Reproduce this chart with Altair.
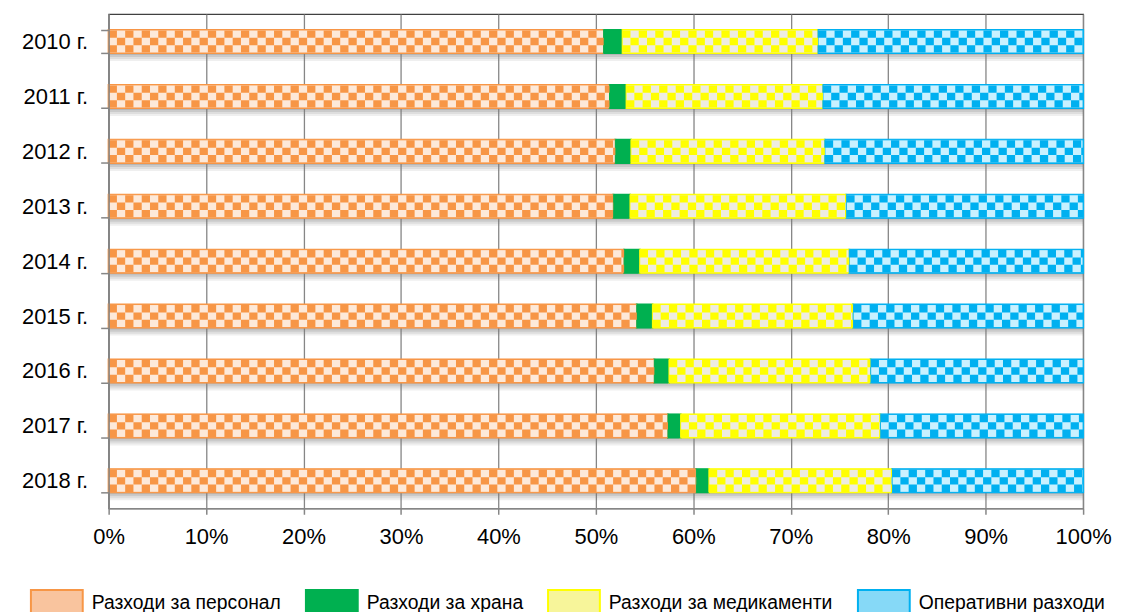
import altair as alt
import pandas as pd

years = ["2010 г.", "2011 г.", "2012 г.", "2013 г.", "2014 г.", "2015 г.", "2016 г.", "2017 г.", "2018 г."]
series = ["Разходи за персонал", "Разходи за храна", "Разходи за медикаменти", "Оперативни разходи"]

personal = [50.8, 51.4, 52.0, 51.8, 52.9, 54.2, 56.0, 57.4, 60.3]
food = [1.9, 1.7, 1.6, 1.7, 1.6, 1.6, 1.5, 1.3, 1.3]
meds = [20.1, 20.2, 19.9, 22.2, 21.5, 20.6, 20.7, 20.5, 18.8]
oper = [27.2, 26.7, 26.5, 24.3, 24.0, 23.6, 21.8, 20.8, 19.6]

dark = ["#F79646", "#00B050", "#FFFF00", "#00B0F0"]
light = ["#FDE9D9", "#00B050", "#EEECE1", "#C9F1FF"]
mid = ["#F9C49E", "#00B050", "#F7F59A", "#86D9F7"]

rows = []
for i, y in enumerate(years):
    vals = [personal[i], food[i], meds[i], oper[i]]
    total = sum(vals)
    acc = 0.0
    for s, v in zip(series, vals):
        rows.append({"year": y, "series": s, "start": acc / total, "end": (acc + v) / total})
        acc += v
df = pd.DataFrame(rows)
shadow_df = pd.DataFrame({"year": years, "start": [0.0] * len(years), "end": [1.0] * len(years)})

GRAY = "#868686"
FS = 22
x_enc = alt.X("start:Q", scale=alt.Scale(domain=[0, 1], nice=False, zero=True),
              axis=alt.Axis(title=None, format="%", values=[i / 10 for i in range(11)],
                            grid=True, gridColor=GRAY, gridWidth=1.3, labelFlush=False,
                            domainColor=GRAY, domainWidth=1.5, tickColor=GRAY, tickWidth=1.5,
                            tickSize=6, labelPadding=12, labelFontSize=FS, labelColor="black",
                            labelFont="Liberation Sans"))
x2_enc = alt.X2("end:Q")
y_enc = alt.Y("year:N", sort=years,
              scale=alt.Scale(domain=years, paddingInner=0.58, paddingOuter=0.29),
              axis=alt.Axis(title=None, tickBand="extent", domainColor=GRAY, domainWidth=1.5,
                            tickColor=GRAY, tickWidth=1.5, tickSize=8, labelPadding=13,
                            labelFontSize=FS, labelColor="black", labelFont="Liberation Sans",
                            grid=False, zindex=1))

fill_scale = alt.Scale(domain=series, range=light)
stroke_scale = alt.Scale(domain=series, range=dark)
color_scale = alt.Scale(domain=series, range=mid)

legend_def = alt.Legend(
    title=None, orient="none", legendX=-79, legendY=564,
    direction="horizontal", columns=4,
    symbolType="M-1,-0.5H1V0.5H-1Z", symbolSize=2704,
    symbolStrokeWidth=2, symbolOpacity=1,
    labelFontSize=19.4, labelFont="Liberation Sans", labelColor="black",
    labelOffset=8, columnPadding=21, labelLimit=0,
)

# soft shadow under each bar, built from a few translucent rules
shadow_layers = []
for off, op in [(12.6, 0.55), (14.6, 0.40), (16.6, 0.25), (18.6, 0.12)]:
    shadow_layers.append(
        alt.Chart(shadow_df).mark_rule(
            yOffset=off, strokeWidth=2, color="#7a7a7a", opacity=op, strokeCap="butt"
        ).encode(x=x_enc, x2=x2_enc, y=y_enc)
    )

# layer that carries the legend (hidden beneath the patterned bars)
legend_layer = alt.Chart(df).mark_bar(strokeWidth=2).encode(
    x=x_enc, x2=x2_enc, y=y_enc,
    color=alt.Color("series:N", scale=color_scale, sort=series, legend=legend_def),
    stroke=alt.Stroke("series:N", scale=stroke_scale, sort=series, legend=legend_def),
)

base = alt.Chart(df).mark_bar(strokeWidth=1).encode(
    x=x_enc, x2=x2_enc, y=y_enc,
    fill=alt.Fill("series:N", scale=fill_scale, legend=None),
    stroke=alt.Stroke("series:N", scale=stroke_scale, legend=None),
)

CELL = 8.3
ROW = 7.4
checker_layers = []
for k in range(3):
    lay = alt.Chart(df).transform_filter(
        alt.datum.series != series[1]
    ).mark_rule(
        strokeWidth=ROW, strokeDash=[CELL, CELL],
        strokeDashOffset=(0 if k % 2 == 0 else CELL),
        yOffset=(k - 1) * ROW, strokeCap="butt",
    ).encode(
        x=x_enc, x2=x2_enc, y=y_enc,
        stroke=alt.Stroke("series:N", scale=stroke_scale, legend=None),
    )
    checker_layers.append(lay)

chart = alt.layer(*shadow_layers, legend_layer, base, *checker_layers).properties(
    width=978, height=496,
    autosize="none",
    padding={"left": 101, "top": 5, "right": 30, "bottom": 103},
).configure(font="Liberation Sans").configure_view(stroke="#404040", strokeWidth=1.2)

chart.save("out.html", embed_options={"renderer": "svg", "actions": False})
